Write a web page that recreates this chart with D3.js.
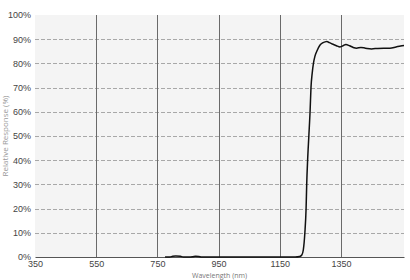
<!DOCTYPE html>
<html>
<head>
<meta charset="utf-8">
<script src="https://cdn.jsdelivr.net/npm/d3@7"></script>
<style>
  body { margin: 0; background: #fff; }
  svg { display: block; font-family: "Open Sans", sans-serif; }
  .tick text { fill: #444; font-size: 9px; }
</style>
</head>
<body>
<svg id="chart" width="410" height="280"></svg>
<script>
// wavelength (nm) and relative response (%)
let wavelengths = [775, 790, 800, 810, 825, 835, 850, 865, 875, 885, 895, 950, 1050, 1150, 1200, 1215, 1222, 1227, 1232, 1236, 1238, 1241, 1245, 1249, 1252, 1256, 1260, 1265, 1271, 1281, 1290, 1298, 1304, 1312, 1322, 1335, 1347, 1357, 1366, 1378, 1390, 1401, 1415, 1430, 1450, 1470, 1490, 1510, 1530, 1545, 1556];
let response = [0, 0, 0.3, 0.4, 0.3, 0, 0, 0.1, 0.3, 0.2, 0, 0, 0, 0, 0, 0.2, 0.8, 3, 10, 20, 30, 40, 50, 60, 70, 76, 80, 83, 85, 87.5, 88.5, 88.9, 89, 88.6, 88, 87.3, 86.8, 87.3, 87.8, 87.3, 86.6, 86.3, 86.6, 86.3, 86, 86.2, 86.3, 86.3, 86.8, 87.2, 87.4];
let xTicks = [350, 550, 750, 950, 1150, 1350];
let yTicks = [0, 10, 20, 30, 40, 50, 60, 70, 80, 90, 100];
let xTitle = "Wavelength (nm)";
let yTitle = "Relative Response (%)";

function drawChart() {
    let svg = d3.select("#chart");
    let left = 35, right = 404, top = 15, bottom = 257;

    let x = d3.scaleLinear().domain([350, 1556]).range([left, right]);
    let y = d3.scaleLinear().domain([0, 100]).range([bottom, top]);

    svg.append("rect")
        .attr("x", left).attr("y", top)
        .attr("width", right - left).attr("height", bottom - top)
        .attr("fill", "#f4f4f4");

    // dashed horizontal grid
    svg.append("g").selectAll("line").data(yTicks.filter(d => d > 0 && d < 100))
        .enter().append("line")
        .attr("x1", left).attr("x2", right)
        .attr("y1", d => Math.round(y(d)) + 0.5).attr("y2", d => Math.round(y(d)) + 0.5)
        .attr("stroke", "#a8a8a8")
        .attr("stroke-dasharray", "4,2");

    // solid vertical grid
    svg.append("g").selectAll("line").data(xTicks.filter(d => d > 350))
        .enter().append("line")
        .attr("x1", d => Math.round(x(d)) + 0.5).attr("x2", d => Math.round(x(d)) + 0.5)
        .attr("y1", top).attr("y2", bottom)
        .attr("stroke", "#6a6a6a");

    let xAxis = d3.axisBottom(x).tickValues(xTicks).tickSize(0).tickPadding(4)
        .tickFormat(d3.format("d"));
    let gx = svg.append("g").attr("transform", "translate(0," + bottom + ")").call(xAxis);
    gx.select(".domain").attr("stroke", "#555");

    let yAxis = d3.axisLeft(y).tickValues(yTicks).tickSize(0).tickPadding(4)
        .tickFormat(d => d + "%");
    let gy = svg.append("g").attr("transform", "translate(" + left + ",0)").call(yAxis);
    gy.select(".domain").remove();

    let points = wavelengths.map((w, i) => [w, response[i]]);
    let line = d3.line()
        .x(d => x(d[0]))
        .y(d => y(d[1]))
        .curve(d3.curveMonotoneX);
    svg.append("path")
        .datum(points)
        .attr("d", line)
        .attr("fill", "none")
        .attr("stroke", "#111")
        .attr("stroke-width", 1.5);

    svg.append("text")
        .attr("x", (left + right) / 2).attr("y", 278)
        .attr("text-anchor", "middle")
        .attr("font-size", 7)
        .attr("fill", "#777")
        .text(xTitle);

    svg.append("text")
        .attr("transform", "translate(8," + ((top + bottom) / 2) + ") rotate(-90)")
        .attr("text-anchor", "middle")
        .attr("font-size", 8)
        .attr("fill", "#999")
        .text(yTitle);
}

drawChart();
</script>
</body>
</html>
